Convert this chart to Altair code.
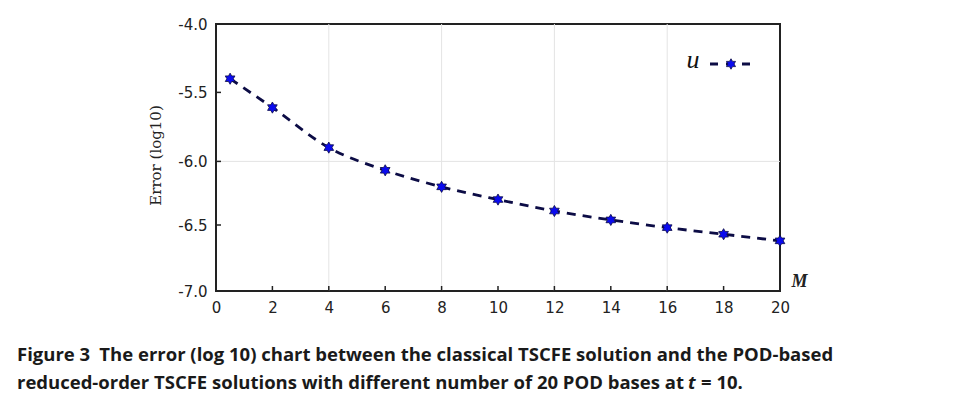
import altair as alt
import pandas as pd

# ---- data ----
M = [0.5, 2, 4, 6, 8, 10, 12, 14, 16, 18, 20]
err = [-5.40, -5.61, -5.90, -6.07, -6.20, -6.30, -6.39, -6.46, -6.52, -6.57, -6.62]

x_ticks = [0, 2, 4, 6, 8, 10, 12, 14, 16, 18, 20]
y_ticks = [-7.0, -6.5, -6.0, -5.5, -5.0]
y_tick_labels = ["-7.0", "-6.5", "-6.0", "-5.5", "-4.0"]
x_inner_ticks = [2, 4, 6, 8, 10, 12, 14, 16, 18]
y_inner_ticks = [-6.5, -6.0, -5.5]
x_grid = [4, 8, 12, 16]
y_grid = [-6.0]

series_name = "u"
x_title = "M"
y_title = "Error (log10)"
caption_1 = "Figure 3\u2002The error (log 10) chart between the classical TSCFE solution and the POD-based"
caption_2a = "reduced-order TSCFE solutions with different number of 20 POD bases at"
caption_2b = "t"
caption_2c = "= 10."

NAVY = "#0c0c45"
BLUE = "#0b0bee"
STAR = ("M0,-1L0.2887,-0.5L0.866,-0.5L0.577,0L0.866,0.5L0.2887,0.5L0,1"
        "L-0.2887,0.5L-0.866,0.5L-0.577,0L-0.866,-0.5L-0.2887,-0.5Z")

W, H = 564, 267

label_expr = " : ".join(
    f"datum.value == {v} ? '{t}'" for v, t in zip(y_ticks, y_tick_labels)
) + " : ''"

x_scale = alt.Scale(domain=[0, 20], nice=False, zero=False)
y_scale = alt.Scale(domain=y_ticks, range=[267, 201, 137.4, 68.4, 0], nice=False, zero=False)

x_axis = alt.Axis(values=x_ticks, ticks=False, domain=False, grid=False,
                  labelFont="DejaVu Sans", labelFontSize=15, labelPadding=9,
                  labelColor="#222", labelFlush=False, format="d",
                  title=x_title, titleX=583, titleY=-10, titleBaseline="middle",
                  titleAlign="center", titleFont="Liberation Serif",
                  titleFontStyle="italic", titleFontWeight="bold", titleFontSize=18,
                  titleColor="#222")
y_axis = alt.Axis(values=y_ticks, ticks=False, domain=False, grid=False,
                  labelExpr=label_expr, labelFont="DejaVu Sans", labelFontSize=15,
                  labelPadding=9, labelColor="#222", labelFlush=False,
                  title=y_title, titleAngle=270, titleX=-56, titleY=131,
                  titleAlign="center", titleBaseline="alphabetic",
                  titleFont="DejaVu Serif", titleFontWeight="normal",
                  titleFontSize=15, titleColor="#222")

def X():
    return alt.X("M:Q", scale=x_scale, axis=x_axis)

def Y():
    return alt.Y("err:Q", scale=y_scale, axis=y_axis)

df = pd.DataFrame({"M": M, "err": err})

gridx = alt.Chart(pd.DataFrame({"M": x_grid})).mark_rule(color="#e4e4e4", strokeWidth=1).encode(x=X())
gridy = alt.Chart(pd.DataFrame({"err": y_grid})).mark_rule(color="#e4e4e4", strokeWidth=1).encode(y=Y())

line = alt.Chart(df).mark_line(interpolate="monotone", color=NAVY, strokeWidth=2.8,
                               strokeDash=[9, 7]).encode(x=X(), y=Y())
pts = alt.Chart(df).mark_point(shape=STAR, filled=True, fill=BLUE, stroke=NAVY,
                               strokeWidth=0.8, size=125, opacity=1).encode(x=X(), y=Y())

ytk = alt.Chart(pd.DataFrame({"err": y_inner_ticks})).mark_rule(color="#222", strokeWidth=1.5).encode(
    y=Y(), x=alt.value(0), x2=alt.value(5))
xtk = alt.Chart(pd.DataFrame({"M": x_inner_ticks})).mark_rule(color="#222", strokeWidth=1.5).encode(
    x=X(), y=alt.value(H), y2=alt.value(H - 5))

leg_df = pd.DataFrame({"name": [series_name]})
leg_text = alt.Chart(leg_df).mark_text(font="Liberation Serif", fontStyle="italic", fontSize=26,
                                       align="center", baseline="middle", color="#111").encode(
    text="name:N", x=alt.value(477), y=alt.value(36))
leg_line = alt.Chart(leg_df).mark_rule(color=NAVY, strokeWidth=2.8, strokeDash=[8, 8]).encode(
    x=alt.value(494), x2=alt.value(534), y=alt.value(40))
leg_star = alt.Chart(leg_df).mark_point(shape=STAR, filled=True, fill=BLUE, stroke=NAVY,
                                        strokeWidth=0.8, size=110, opacity=1).encode(
    x=alt.value(515), y=alt.value(40))

def cap(text, x, y, style="normal"):
    return alt.Chart(pd.DataFrame({"c": [text]})).mark_text(
        font="Open Sans", fontWeight="bold", fontStyle=style, fontSize=18.5, align="left",
        baseline="alphabetic", color="#1a1a1a").encode(
        text="c:N", x=alt.value(x), y=alt.value(y))

c1 = cap(caption_1, -199, 336.7)
c2 = cap(caption_2a, -199, 364.7)
c3 = cap(caption_2b, 472, 364.7, "italic")
c4 = cap(caption_2c, 485, 364.7)

chart = alt.layer(gridx, gridy, line, pts, ytk, xtk, leg_text, leg_line, leg_star,
                  c1, c2, c3, c4).properties(
    width=W, height=H,
    autosize=alt.AutoSizeParams(type="none"),
    padding={"left": 208, "top": 16, "right": 170, "bottom": 107},
    background="white",
).configure_view(stroke="#222", strokeWidth=2)

chart.save("out.html", embed_options={"renderer": "svg", "actions": False})
